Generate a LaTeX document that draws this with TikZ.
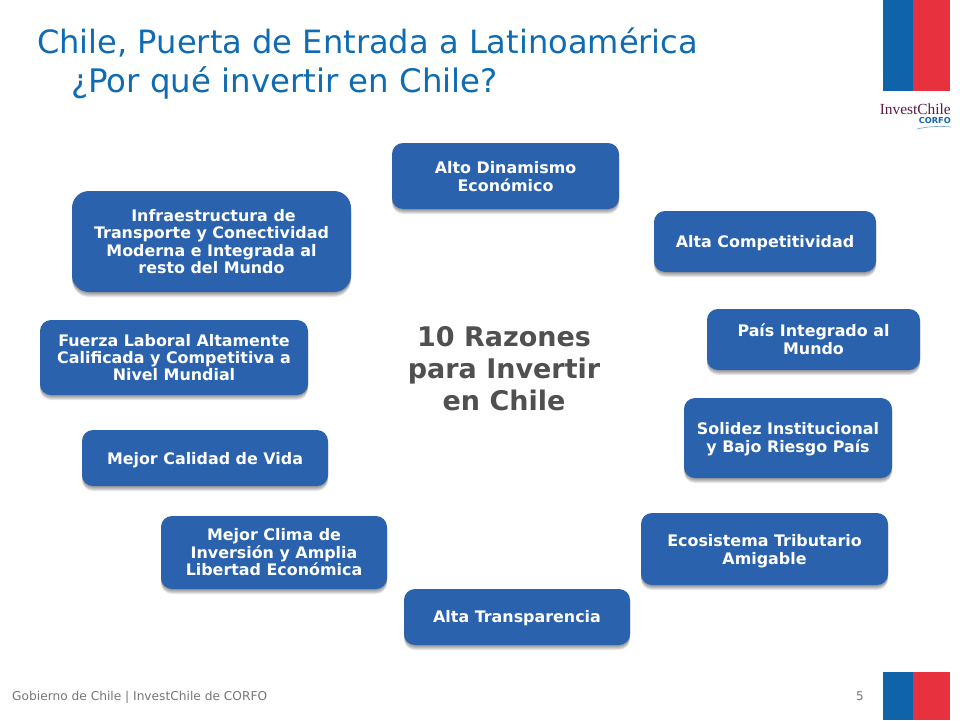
\documentclass[tikz,border=0pt]{standalone}
\usepackage{fontspec}
\setmainfont{DejaVu Sans}
\newfontfamily\logofont{Liberation Serif}
\usetikzlibrary{shadows}
\definecolor{boxblue}{HTML}{2A62AE}
\definecolor{titleblue}{HTML}{0F6CB2}
\definecolor{flagblue}{HTML}{0F63A9}
\definecolor{flagred}{HTML}{E7313F}
\definecolor{centergrey}{HTML}{505050}
\definecolor{footgrey}{HTML}{777777}
\definecolor{logoplum}{HTML}{5A1A45}
\tikzset{
  x=1pt,y=-1pt,
  softshade/.style={general shadow={shadow xshift=0pt,shadow yshift=#1,opacity=.09,fill=black}},
  reason/.style={fill=boxblue,draw=none,rounded corners=#1,text=white,align=center,
    font=\fontsize{15.9}{17.8}\selectfont\bfseries,inner sep=0pt,
    softshade=-5pt,softshade=-4pt,softshade=-3pt,softshade=-2pt,softshade=-1pt},
  reason/.default=11pt,
  flagb/.style={fill=flagblue,draw=none},
  flagr/.style={fill=flagred,draw=none},
}
\newcommand{\reasonbox}[7][11pt]{%
  \node[reason=#1,minimum width=#4-#3,minimum height=#6-#5] (#2) at ({(#3+#4)/2},{(#5+#6)/2}) {#7};}
\newcommand{\dn}[1]{\rule{0pt}{#1pt}}
\begin{document}
\begin{tikzpicture}
\useasboundingbox (0,0) rectangle (960,720);
\fill[white] (0,0) rectangle (960,720);
% title
\node[anchor=west,text=titleblue,font=\fontsize{32.1}{38}\selectfont,inner sep=0pt] (t1) at (37,43) {Chile, Puerta de Entrada a Latinoamérica};
\node[anchor=west,text=titleblue,font=\fontsize{32.4}{38}\selectfont,inner sep=0pt] (t2) at (71,83) {¿Por qué invertir en Chile?};
% flags
\fill[flagb] (883,0) rectangle (913,91);
\fill[flagr] (913,0) rectangle (950,91);
\fill[flagb] (883,672) rectangle (913,720);
\fill[flagr] (913,672) rectangle (950,720);
% logo
\node[anchor=east,text=logoplum,font=\logofont\fontsize{15.4}{16}\selectfont,inner sep=0pt] (logo) at (951,109) {InvestChile};
\node[anchor=east,text=flagblue,font=\fontsize{8.2}{9}\selectfont\bfseries,inner sep=0pt] (corfo) at (951,121) {CORFO};
\draw[flagblue!60,line width=.6pt] (917,129) .. controls (930,126) and (942,126) .. (951,127);
% boxes
\reasonbox{a}{392}{619}{143}{209}{\dn{13}Alto Dinamismo\\Económico}
\reasonbox{b}{654}{876}{211}{272}{\dn{16}Alta Competitividad}
\reasonbox{c}{707}{920}{309}{370}{País Integrado al\\Mundo}
\reasonbox{d}{684}{892}{398}{478}{\dn{14}Solidez Institucional\\y Bajo Riesgo País}
\reasonbox{e}{641}{888}{513}{585}{\dn{16}Ecosistema Tributario\\Amigable}
\reasonbox{f}{404}{630}{589}{645}{\dn{14}Alta Transparencia}
\reasonbox{g}{161}{387}{516}{589}{Mejor Clima de\\[-.2pt]Inversión y Amplia\\[-.4pt]Libertad Económica}
\reasonbox{h}{82}{328}{430}{486}{\dn{16}Mejor Calidad de Vida}
\reasonbox{i}{40}{308}{320}{395}{Fuerza Laboral Altamente\\[-.4pt]Calificada y Competitiva a\\[-.4pt]Nivel Mundial}
\reasonbox[17pt]{j}{72}{351}{191}{292}{\hspace*{4pt}Infraestructura de\\[-.2pt]Transporte y Conectividad\\[-.4pt]Moderna e Integrada al\\[-.2pt]resto del Mundo}
% centre
\node[align=center,text=centergrey,font=\fontsize{27}{32}\selectfont\bfseries,inner sep=0pt] (center) at (504,369) {10 Razones\\para Invertir\\en Chile};
% footer
\node[anchor=west,text=footgrey,font=\fontsize{12.2}{15}\selectfont,inner sep=0pt] (foot) at (12,697) {Gobierno de Chile | InvestChile de CORFO};
\node[text=footgrey,font=\fontsize{12}{15}\selectfont,inner sep=0pt] (num) at (860,696) {5};
\end{tikzpicture}
\end{document}
